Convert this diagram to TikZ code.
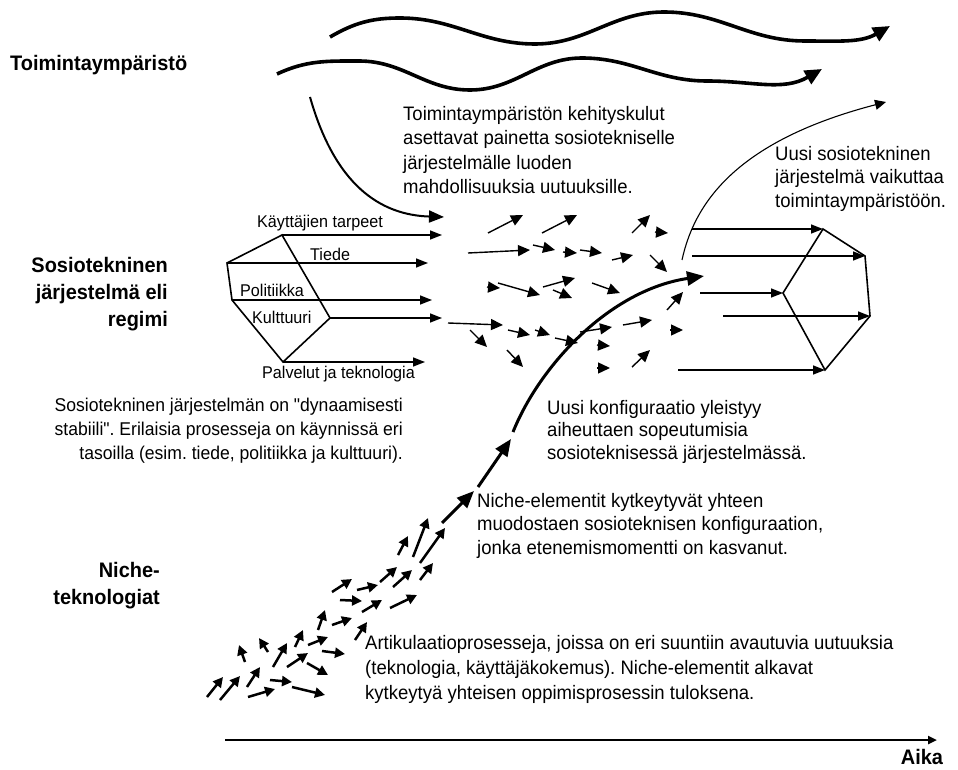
\documentclass[tikz,border=0pt]{standalone}
\usepackage{fontspec}
\setmainfont{Liberation Sans}[FakeStretch=0.95,Ligatures=TeXOff]
\usetikzlibrary{arrows.meta}
\frenchspacing
\begin{document}
\begin{tikzpicture}[x=1pt,y=-1pt,
  txt/.style={font=\fontsize{19.5}{24.5}\selectfont, inner sep=0pt, align=left},
  lbl/.style={font=\fontsize{17}{20}\selectfont, inner sep=0pt},
  ttl/.style={font=\bfseries\fontsize{21}{27}\selectfont, inner sep=0pt},
  wave/.style={line width=3.6pt, -{Triangle[length=17pt,width=15pt]}},
  big/.style={line width=3pt, -{Triangle[length=17pt,width=14pt]}},
  reg/.style={line width=1.6pt, -{Triangle[length=12pt,width=9pt]}},
  sa/.style={line width=1.4pt, -{Triangle[length=12pt,width=11pt]}},
  na/.style={line width=2.5pt, -{Triangle[length=10pt,width=10pt]}},
  edge/.style={line width=1.6pt, line join=miter}]
\useasboundingbox (0,0) rectangle (958,770);

% ---------- titles ----------
\node[ttl, anchor=north west] (tA) at (10,55) {Toimintaympäristö};
\node[ttl, anchor=north east, align=right] (tB) at (168,257) {Sosiotekninen\\järjestelmä eli\\regimi};
\node[ttl, anchor=north east, align=right] (tC) at (160,562) {Niche-\\teknologiat};
\node[ttl, anchor=center] (tD) at (922,757) {Aika};

% ---------- texts ----------
\node[txt, anchor=north west] (x1) at (403,106) {Toimintaympäristön kehityskulut\\asettavat painetta sosiotekniselle\\järjestelmälle luoden\\mahdollisuuksia uutuuksille.};
\node[txt, anchor=north west, font=\fontsize{19.5}{23.5}\selectfont] (x2) at (775,146) {Uusi sosiotekninen\\järjestelmä vaikuttaa\\toimintaympäristöön.};
\node[txt, anchor=north east, align=right, font=\fontsize{18.5}{24}\selectfont] (x3) at (403,398) {Sosiotekninen järjestelmän on "dynaamisesti\\stabiili". Erilaisia prosesseja on käynnissä eri\\tasoilla (esim. tiede, politiikka ja kulttuuri).};
\node[txt, anchor=north west, font=\fontsize{19.5}{22.5}\selectfont] (x4) at (547,400) {Uusi konfiguraatio yleistyy\\aiheuttaen sopeutumisia\\sosioteknisessä järjestelmässä.};
\node[txt, anchor=north west, font=\fontsize{19.5}{23.5}\selectfont] (x5) at (477,493) {Niche-elementit kytkeytyvät yhteen\\muodostaen sosioteknisen konfiguraation,\\jonka etenemismomentti on kasvanut.};
\node[txt, anchor=north west, font=\fontsize{19.5}{25}\selectfont] (x6) at (365,635) {Artikulaatioprosesseja, joissa on eri suuntiin avautuvia uutuuksia\\(teknologia, käyttäjäkokemus). Niche-elementit alkavat\\kytkeytyä yhteisen oppimisprosessin tuloksena.};

% ---------- wavy landscape arrows ----------
\coordinate (w1s) at (330,37);
\coordinate (w1e) at (890,26);
\draw[wave] (w1s) to[out=30,in=180] (400,18) to[out=0,in=180] (535,44)
  to[out=0,in=180] (664,12) to[out=0,in=180] (805,41) to[out=0,in=210] (w1e);
\coordinate (w2s) at (277,74);
\coordinate (w2e) at (822,69);
\draw[wave] (w2s) to[out=25,in=180] (359,61) to[out=0,in=180] (470,90)
  to[out=0,in=180] (582,58) to[out=0,in=180] (707,81) to[out=0,in=210] (w2e);

% pressure arrow from landscape
\coordinate (p0) at (310,97);
\coordinate (p1) at (444,217);
\draw[line width=2pt, -{Triangle[length=15pt,width=12pt]}] (p0) .. controls (335,185) and (380,215) .. (p1);

% ---------- left regime polygon ----------
\coordinate (A) at (282,235);
\coordinate (B) at (227,263);
\coordinate (C) at (232,300);
\coordinate (D) at (283,362);
\coordinate (E) at (330,318);
\draw[edge] (A) -- (B) -- (C) -- (D) -- (E) -- cycle;
\coordinate (Ae) at (442,235);
\coordinate (Be) at (428,263);
\coordinate (Ce) at (432,300);
\coordinate (Ee) at (442,318);
\coordinate (De) at (425,362);
\draw[reg] (A) -- (Ae);
\draw[reg] (B) -- (Be);
\draw[reg] (C) -- (Ce);
\draw[reg] (E) -- (Ee);
\draw[reg] (D) -- (De);
\node[lbl, anchor=west] (l1) at (257,223) {Käyttäjien tarpeet};
\node[lbl, anchor=west] (l2) at (310,254) {Tiede};
\node[lbl, anchor=west] (l3) at (240,290) {Politiikka};
\node[lbl, anchor=west] (l4) at (252,317) {Kulttuuri};
\node[lbl, anchor=west] (l5) at (262,374) {Palvelut ja teknologia};

% ---------- small arrows in the regime ----------
\foreach \a/\b/\c/\d in {488/233/523/215, 542/233/577/215, 632/233/650/215, 655/232/668/233,
  468/253/530/250, 533/245/555/250, 563/252/577/253, 580/250/602/253, 612/260/633/255,
  650/255/667/272, 487/287/500/288, 498/283/540/295, 543/287/575/278, 553/290/572/298,
  592/283/620/293, 448/323/503/325, 470/330/487/347, 508/330/530/335, 535/330/550/335,
  555/338/578/343, 580/332/612/327, 623/325/652/320, 507/350/523/367, 597/345/610/346,
  597/368/610/368, 632/367/650/350, 670/330/683/330, 667/310/683/292}
  \draw[sa] (\a,\b) -- (\c,\d);

% ---------- niche arrows ----------
\foreach \a/\b/\c/\d in {207/697/223/677, 220/700/240/676, 247/687/260/667, 248/697/275/689,
  270/680/292/682, 292/687/325/695, 245/662/239/645, 268/652/259/638, 273/667/287/643,
  287/667/308/653, 307/663/328/675, 295/647/303/630, 308/645/328/637, 322/651/345/654,
  318/630/325/610, 332/625/352/618, 355/640/367/622, 340/600/362/601, 362/612/382/600,
  332/592/352/579, 357/590/378/585, 380/582/397/567, 393/587/412/570, 390/608/417/595,
  420/580/433/563, 398/555/408/536, 413/557/428/518, 420/563/445/528}
  \draw[na] (\a,\b) -- (\c,\d);

% ---------- main trajectory ----------
\coordinate (m0) at (442,523);
\coordinate (m1) at (474,491);
\coordinate (m2) at (478,487);
\coordinate (m3) at (511,439);
\coordinate (m4) at (513,432);
\coordinate (m5) at (704,276);
\draw[big] (m0) -- (m1);
\draw[big] (m2) -- (m3);
\draw[big] (m4) .. controls (540,365) and (610,290) .. (m5);

% new regime influences landscape
\coordinate (n0) at (682,260);
\coordinate (n1) at (886,102);
\draw[line width=1.1pt, -{Triangle[length=11pt,width=10pt]}] (n0) .. controls (695,200) and (740,140) .. (n1);

% ---------- right regime polygon ----------
\coordinate (P1) at (823,229);
\coordinate (P2) at (865,256);
\coordinate (P4) at (870,316);
\coordinate (P5) at (825,370);
\coordinate (P3) at (783,293);
\draw[edge] (P1) -- (P2) -- (P4) -- (P5) -- (P3) -- cycle;
\coordinate (Q1) at (692,229);
\coordinate (Q2) at (692,256);
\coordinate (Q3) at (700,293);
\coordinate (Q4) at (723,316);
\coordinate (Q5) at (678,370);
\draw[reg] (Q1) -- (P1);
\draw[reg] (Q2) -- (P2);
\draw[reg] (Q3) -- (P3);
\draw[reg] (Q4) -- (P4);
\draw[reg] (Q5) -- (P5);

% ---------- time axis ----------
\coordinate (t0) at (225,740);
\coordinate (t1) at (937,740);
\draw[line width=2.6pt, -{Triangle[length=9pt,width=8pt]}] (t0) -- (t1);
\end{tikzpicture}
\end{document}
